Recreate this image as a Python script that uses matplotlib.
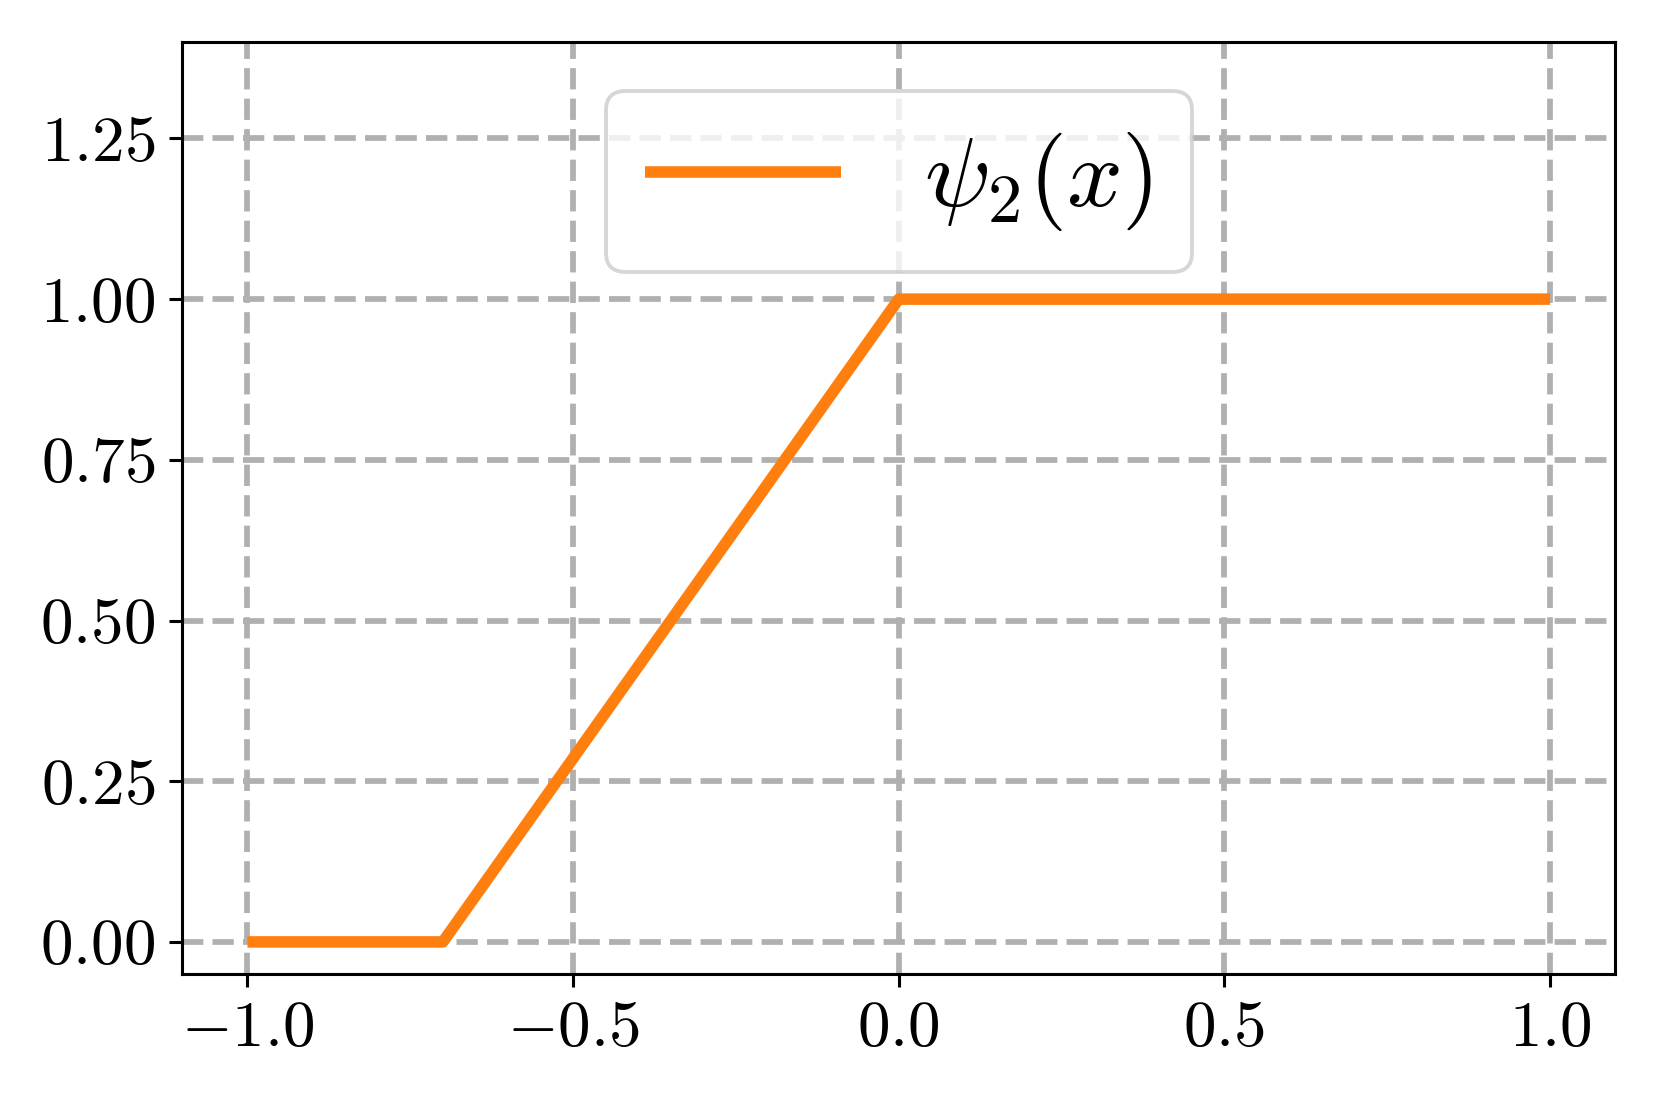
import matplotlib
matplotlib.use("Agg")
import matplotlib.pyplot as plt

# piecewise linear psi_2(x): 0, ramp from -0.7 to 0, then flat at 1
x_pts = [-1.0, -0.7, 0.0, 1.0]
y_pts = [0.0, 0.0, 1.0, 1.0]

xticks = [-1.0, -0.5, 0.0, 0.5, 1.0]
xtick_labels = [r'$-1.0$', r'$-0.5$', r'$0.0$', r'$0.5$', r'$1.0$']
yticks = [0.0, 0.25, 0.5, 0.75, 1.0, 1.25]
ytick_labels = [r'$0.00$', r'$0.25$', r'$0.50$', r'$0.75$', r'$1.00$', r'$1.25$']

plt.rcParams['mathtext.fontset'] = 'cm'
plt.rcParams['font.family'] = 'serif'
plt.rcParams['font.serif'] = ['cmr10', 'DejaVu Serif']
plt.rcParams['axes.unicode_minus'] = True

fig = plt.figure(figsize=(6, 4))
ax = fig.add_subplot(1, 1, 1)
ax.plot(x_pts, y_pts, color='#ff7f0e', linewidth=3, solid_capstyle='butt',
        label=r'$\psi_2(x)$', zorder=3)

ax.grid(True, linestyle='--', color='#b0b0b0', linewidth=1.5, zorder=0)
ax.set_axisbelow(True)

ax.set_xlim(-1.1, 1.1)
ax.set_ylim(-0.05, 1.4)
ax.set_xticks(xticks)
ax.set_xticklabels(xtick_labels, fontsize=17)
ax.set_yticks(yticks)
ax.set_yticklabels(ytick_labels, fontsize=17)

leg = ax.legend(loc='upper center', fontsize=25.5, framealpha=0.8,
                handletextpad=0.85)

plt.subplots_adjust(left=0.110, right=0.9745, top=0.962, bottom=0.1185)
plt.savefig('out.png', dpi=276.25)
